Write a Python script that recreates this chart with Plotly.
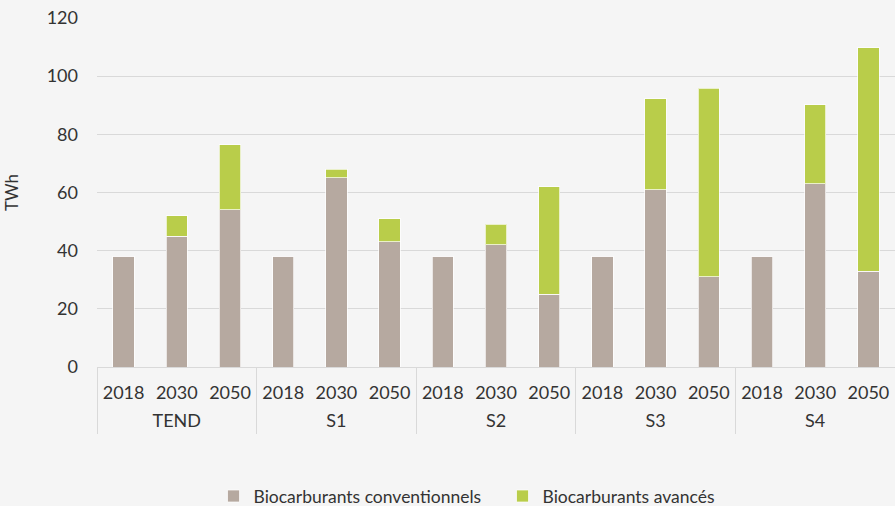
import plotly.graph_objects as go

scenarios = ["TEND", "S1", "S2", "S3", "S4"]
years = ["2018", "2030", "2050"]
conventionnels = [38, 45, 54, 38, 65, 43, 38, 42, 25, 38, 61, 31, 38, 63, 33]
totaux = [38, 52, 76.5, 38, 68, 51, 38, 49, 62, 38, 92.3, 95.8, 38, 90.2, 109.7]
avances = [round(t - c, 1) for t, c in zip(totaux, conventionnels)]

outer = [s for s in scenarios for _ in years]
inner = [y for _ in scenarios for y in years]
n = len(outer)
ny = len(years)
idx = list(range(n))
group_centers = [i * ny + (ny - 1) / 2 for i in range(len(scenarios))]
group_edges = [i * ny - 0.5 for i in range(len(scenarios) + 1)]

FONT = "Lato"
TXT = "#333333"
GRID = "#d9d9d9"
BG = "#f5f5f5"

fig = go.Figure()
fig.add_trace(go.Bar(
    x=[outer, inner], y=conventionnels, name="Biocarburants conventionnels",
    marker=dict(color="#b6a9a0", line=dict(color="rgba(255,255,255,0.7)", width=1)),
))
fig.add_trace(go.Bar(
    x=[outer, inner], y=avances, name="Biocarburants avancés",
    marker=dict(color="#b9cd4a", line=dict(color="rgba(255,255,255,0.7)", width=1)),
))
# invisible helper traces so that the label axes (years / scenarios) are drawn
for ax in ("x2", "x3"):
    fig.add_trace(go.Scatter(x=idx, y=totaux, xaxis=ax, yaxis="y", mode="none",
                             showlegend=False, hoverinfo="skip"))

xr = [-0.5, n - 0.5]
fig.update_layout(
    width=895, height=506,
    barmode="stack", bargap=0.6,
    paper_bgcolor=BG, plot_bgcolor=BG,
    margin=dict(l=97, r=0, t=18, b=139, autoexpand=False),
    font=dict(family=FONT, size=18, color=TXT),
    showlegend=True,
    legend=dict(orientation="h", x=0.146, xanchor="left", y=-0.37, yanchor="middle",
                font=dict(size=17.5, color=TXT), bgcolor="rgba(0,0,0,0)",
                itemwidth=30, traceorder="normal",
                entrywidth=244, entrywidthmode="pixels"),
    xaxis=dict(type="multicategory", showline=True, linecolor=GRID, linewidth=1,
               showdividers=False, showticklabels=False, ticks="",
               automargin=False, showgrid=False),
    xaxis2=dict(overlaying="x", anchor="y", side="bottom", range=xr,
                tickmode="array", tickvals=idx, ticktext=inner,
                ticks="", ticklabelstandoff=13, showgrid=False, zeroline=False,
                showline=False, automargin=False,
                tickfont=dict(family=FONT, size=18, color=TXT)),
    xaxis3=dict(overlaying="x", anchor="y", side="bottom", range=xr,
                tickmode="array", tickvals=group_centers, ticktext=scenarios,
                ticks="", ticklabelstandoff=41, showgrid=False, zeroline=False,
                showline=False, automargin=False,
                tickfont=dict(family=FONT, size=18, color=TXT),
                minor=dict(tickmode="array", tickvals=group_edges, ticks="outside",
                           ticklen=66, tickwidth=1, tickcolor=GRID, showgrid=False)),
    yaxis=dict(range=[0, 120], dtick=20, showgrid=True, gridcolor=GRID, gridwidth=1,
               zeroline=False, showline=False, ticks="", ticklen=0, automargin=False,
               ticklabelstandoff=18,
               tickfont=dict(family=FONT, size=18, color=TXT),
               title=dict(text="TWh", font=dict(family=FONT, size=17, color=TXT), standoff=23)),
)

fig.write_html("out.html", config={"displayModeBar": False},
               post_script="document.body.style.margin='0';document.body.style.background='#f5f5f5';")
